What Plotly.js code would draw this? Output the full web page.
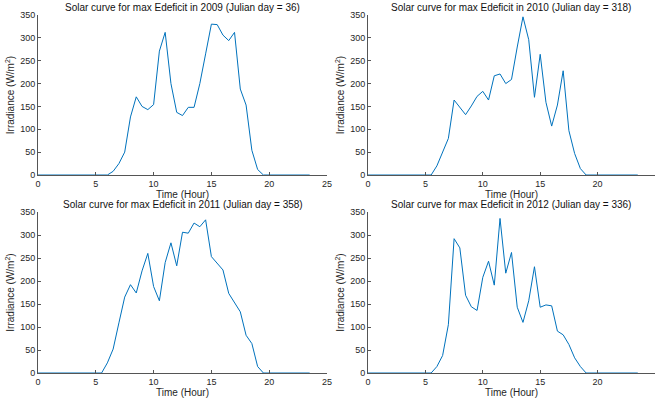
<!DOCTYPE html>
<html>
<head>
<meta charset="utf-8">
<script src="https://cdn.plot.ly/plotly-3.0.1.min.js"></script>
<style>html,body{margin:0;padding:0;background:#fff}#chart{width:657px;height:403px}</style>
</head>
<body>
<div id="chart"></div>
<script>
// Time in hours, half-hour steps 0 .. 23.5
const hours = [];
for (let i = 0; i < 48; i++) hours.push(i * 0.5);

// Irradiance values (W/m^2)
const irr2009 = [0,0,0,0,0,0,0,0,0,0,0,0,0,8,25,50,127,171,150,143,154,271,312,200,137,130,148,148,200,265,330,329,306,294,312,188,153,54,12,0,0,0,0,0,0,0,0,0];
const irr2010 = [0,0,0,0,0,0,0,0,0,0,0,0,20,50,80,164,148,132,151,172,183,164,217,221,200,209,280,346,296,170,264,159,107,153,228,97,47,14,0,0,0,0,0,0,0,0,0,0];
const irr2011 = [0,0,0,0,0,0,0,0,0,0,0,0,22,52,109,165,192,174,222,260,188,157,240,283,233,306,304,326,318,333,253,238,224,173,154,133,82,64,14,0,0,0,0,0,0,0,0,0];
const irr2012 = [0,0,0,0,0,0,0,0,0,0,0,0,14,38,105,292,272,169,144,136,208,243,191,336,217,262,143,110,157,231,143,148,146,91,83,62,33,14,0,0,0,0,0,0,0,0,0,0];

const titles = [
  "Solar curve for max Edeficit in 2009 (Julian day = 36)",
  "Solar curve for max Edeficit in 2010 (Julian day = 318)",
  "Solar curve for max Edeficit in 2011 (Julian day = 358)",
  "Solar curve for max Edeficit in 2012 (Julian day = 336)"
];
const series = [irr2009, irr2010, irr2011, irr2012];
const xTicks = [0, 5, 10, 15, 20, 25];
const yTicks = [0, 50, 100, 150, 200, 250, 300, 350];

const W = 657, H = 403;
const xDom = [[38 / W, 327 / W], [368 / W, 655 / W]];
const yDom = [[(H - 175) / H, (H - 15) / H], [(H - 373) / H, (H - 212) / H]];
const FONT = "Liberation Sans, Arial, Helvetica, sans-serif";

const traces = [];
const layout = {
  width: W, height: H,
  margin: {l: 0, r: 0, t: 0, b: 0},
  paper_bgcolor: "#fff", plot_bgcolor: "#fff",
  showlegend: false,
  font: {family: FONT, size: 9, color: "#262626"},
  annotations: []
};

for (let k = 0; k < 4; k++) {
  const col = k % 2, row = Math.floor(k / 2);
  const sfx = k === 0 ? "" : String(k + 1);
  traces.push({
    x: hours, y: series[k], type: "scatter", mode: "lines",
    line: {color: "#0072BD", width: 1},
    xaxis: "x" + sfx, yaxis: "y" + sfx, hoverinfo: "skip"
  });
  layout["xaxis" + sfx] = {
    domain: xDom[col], range: [0, 25], anchor: "y" + sfx,
    tickvals: xTicks, ticktext: xTicks.map(String),
    ticks: "inside", ticklen: 3, tickcolor: "#555", tickwidth: 1,
    showline: true, linecolor: "#555", linewidth: 1,
    showgrid: false, zeroline: false,
    tickfont: {size: 9, family: FONT, color: "#262626"},
    title: {text: "Time (Hour)", font: {size: 10, family: FONT, color: "#262626"}, standoff: 0}
  };
  layout["yaxis" + sfx] = {
    domain: yDom[row], range: [0, 350], anchor: "x" + sfx,
    tickvals: yTicks, ticktext: yTicks.map(String),
    ticks: "inside", ticklen: 3, tickcolor: "#555", tickwidth: 1,
    showline: true, linecolor: "#555", linewidth: 1,
    showgrid: false, zeroline: false,
    tickfont: {size: 9, family: FONT, color: "#262626"},
    title: {text: "Irradiance (W/m<sup>2</sup>)", font: {size: 10, family: FONT, color: "#262626"}, standoff: 3}
  };
  layout.annotations.push({
    text: titles[k], xref: "paper", yref: "paper",
    x: (xDom[col][0] + xDom[col][1]) / 2, y: yDom[row][1],
    xanchor: "center", yanchor: "bottom", yshift: 0, showarrow: false,
    font: {size: 10, family: FONT, color: "#111"}
  });
}

Plotly.newPlot("chart", traces, layout, {staticPlot: true, displayModeBar: false});
</script>
</body>
</html>
